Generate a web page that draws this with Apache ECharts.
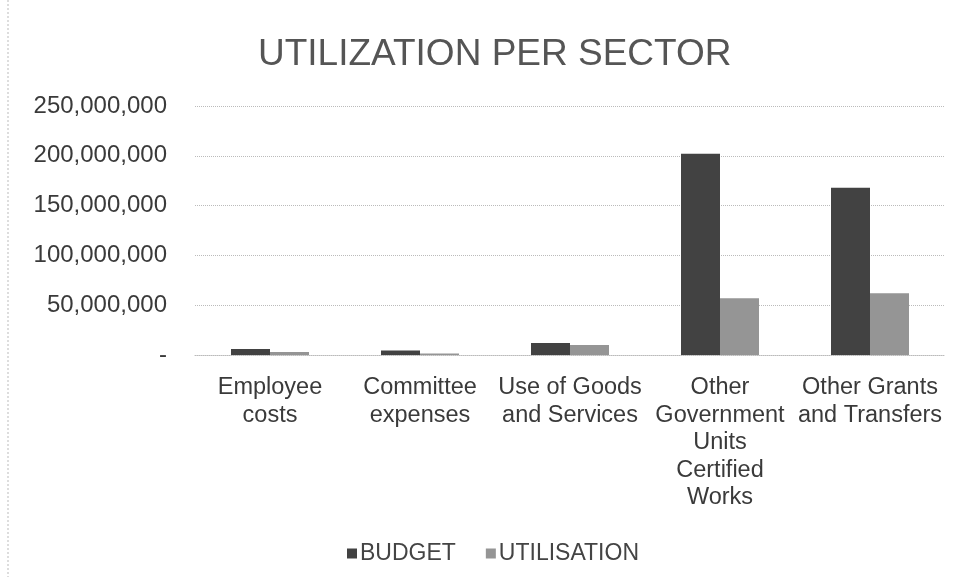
<!DOCTYPE html>
<html><head><meta charset="utf-8">
<script src="https://cdn.jsdelivr.net/npm/echarts@6/dist/echarts.min.js"></script>
<style>html,body{margin:0;padding:0;background:#fff}#c{width:965px;height:577px}</style>
</head><body><div id="c"></div>
<script>
const categories = ['Employee\ncosts', 'Committee\nexpenses', 'Use of Goods\nand Services', 'Other\nGovernment\nUnits\nCertified\nWorks', 'Other Grants\nand Transfers'];
const budget = [6000000, 4500000, 12000000, 202000000, 168000000];
const utilisation = [3000000, 1500000, 10000000, 57000000, 62000000];
const yTicks = [0, 50000000, 100000000, 150000000, 200000000, 250000000];

const chart = echarts.init(document.getElementById('c'));
const font = '"Liberation Sans", Arial, sans-serif';
chart.setOption({
  animation: false,
  textStyle: {fontFamily: font},
  title: {text: 'UTILIZATION PER SECTOR', left: 253, top: 31, textStyle: {fontSize: 37, fontWeight: 'normal', color: '#555', fontFamily: font}},
  legend: {top: 537, left: 342, itemWidth: 10, itemHeight: 10, itemGap: 30, icon: 'rect',
    textStyle: {fontSize: 23, color: '#444', fontFamily: font, padding: [0, 0, 0, -2]}, data: ['BUDGET', 'UTILISATION']},
  grid: {left: 195, right: 20, top: 106, bottom: 222, containLabel: false},
  xAxis: {type: 'category', data: categories,
    axisLine: {show: true, lineStyle: {color: '#bbb', type: 'dotted'}},
    axisTick: {show: false},
    axisLabel: {fontSize: 23.5, color: '#3a3a3a', lineHeight: 27.5, margin: 19, interval: 0, fontFamily: font}},
  yAxis: {type: 'value', min: yTicks[0], max: yTicks[yTicks.length-1], interval: 50000000,
    axisLine: {show: false}, axisTick: {show: false},
    splitLine: {lineStyle: {color: '#bbb', type: 'dotted'}},
    axisLabel: {fontSize: 24, color: '#3a3a3a', margin: 28, fontFamily: font,
      formatter: v => v === 0 ? '-' : v.toLocaleString('en-US')}},
  series: [
    {name: 'BUDGET', type: 'bar', data: budget, barWidth: 39, barGap: '0%', itemStyle: {color: '#424242'}},
    {name: 'UTILISATION', type: 'bar', data: utilisation, barWidth: 39, itemStyle: {color: '#959595'}}
  ],
  graphic: [{type: 'line', shape: {x1: 8, y1: 0, x2: 8, y2: 577}, style: {stroke: '#bbb', lineDash: [2, 2], lineWidth: 1}}]
});
</script></body></html>
